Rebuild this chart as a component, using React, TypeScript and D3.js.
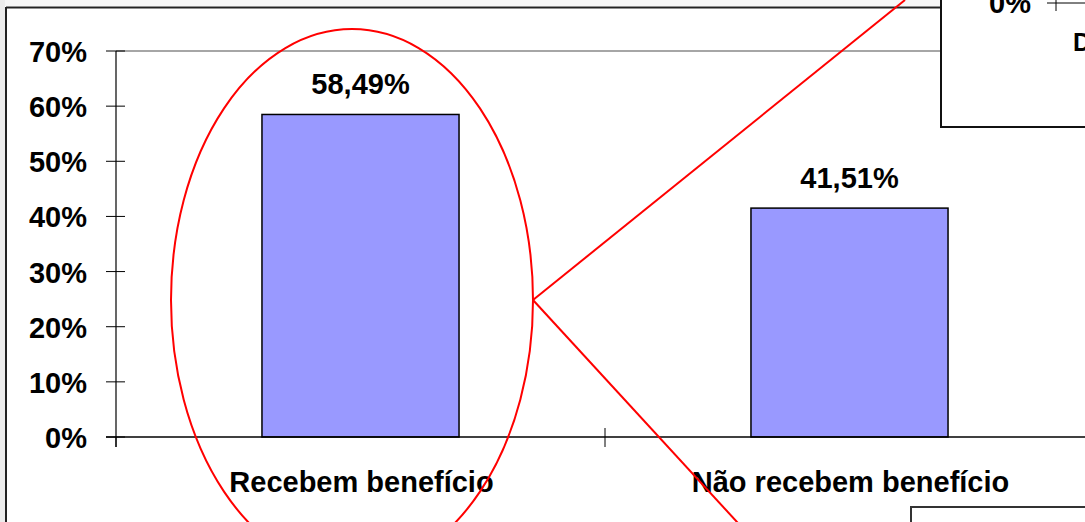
import React from "react";
import * as d3 from "d3";

const categories = ["Recebem benefício", "Não recebem benefício"];
const values = [58.49, 41.51];
const valueLabels = ["58,49%", "41,51%"];
const yTicks = [0, 10, 20, 30, 40, 50, 60, 70];

const W = 1085;
const H = 522;
const FONT = "'Liberation Sans', Arial, sans-serif";
const FS = 29;

export default function App() {
  const left = 116;
  const top = 51;
  const bottom = 437;
  const step = 489;
  const y = d3.scaleLinear().domain([0, 70]).range([bottom, top]);
  const x = d3
    .scaleBand<string>()
    .domain(categories)
    .range([left, left + step * 2])
    .paddingInner(0.597)
    .paddingOuter(0.2985);
  const catCenter = (c: string) => (x(c) as number) + x.bandwidth() / 2;
  const catBoundaries = [left, left + step];

  return (
    <svg
      width={W}
      height={H}
      style={{ position: "absolute", left: 0, top: 0, background: "#fff" }}
      fontFamily={FONT}
    >
      {/* surrounding frame */}
      <rect x={0} y={0} width={W} height={H} fill="#fff" />
      <rect x={0} y={0} width={5} height={H} fill="#ececec" />
      <rect x={5} y={0} width={W} height={6} fill="#f6f6f6" />
      <line x1={6} y1={7.5} x2={W} y2={7.5} stroke="#222" strokeWidth={2} />
      <line x1={6} y1={7} x2={6} y2={H} stroke="#222" strokeWidth={2} />

      {/* top gridline / plot border */}
      <line x1={left} y1={y(70)} x2={W} y2={y(70)} stroke="#888" strokeWidth={1.5} />

      {/* bars */}
      {categories.map((c, i) => (
        <rect
          key={c}
          x={x(c)}
          y={y(values[i])}
          width={x.bandwidth()}
          height={y(0) - y(values[i])}
          fill="#9999ff"
          stroke="#000"
          strokeWidth={1.5}
        />
      ))}

      {/* y axis */}
      <line x1={left} y1={y(70)} x2={left} y2={bottom + 10} stroke="#000" strokeWidth={1.2} />
      {yTicks.map((t) => (
        <g key={t}>
          <line x1={left - 10} y1={y(t)} x2={left + 9} y2={y(t)} stroke="#000" strokeWidth={1} />
          <text
            x={87}
            y={y(t) + 11}
            textAnchor="end"
            fontSize={FS}
            fontWeight="bold"
            fill="#000"
          >
            {t}%
          </text>
        </g>
      ))}

      {/* x axis */}
      <line x1={left - 10} y1={bottom} x2={W} y2={bottom} stroke="#000" strokeWidth={1.5} />
      {catBoundaries.map((b, i) => (
        <line
          key={i}
          x1={b}
          y1={i === 0 ? bottom : bottom - 9}
          x2={b}
          y2={bottom + 10}
          stroke="#000"
          strokeWidth={1}
        />
      ))}

      {/* value labels */}
      {categories.map((c, i) => (
        <text
          key={c}
          x={catCenter(c)}
          y={y(values[i]) - 20}
          textAnchor="middle"
          fontSize={FS}
          fontWeight="bold"
          fill="#000"
        >
          {valueLabels[i]}
        </text>
      ))}

      {/* category labels */}
      {categories.map((c) => (
        <text
          key={c}
          x={catCenter(c) + 1}
          y={492}
          textAnchor="middle"
          fontSize={FS}
          fontWeight="bold"
          fill="#000"
        >
          {c}
        </text>
      ))}

      {/* red annotation */}
      <ellipse cx={352} cy={300} rx={181} ry={271} fill="none" stroke="#ff0000" strokeWidth={2} />
      <line x1={533} y1={300} x2={905} y2={0} stroke="#ff0000" strokeWidth={2} />
      <line x1={533} y1={300} x2={760} y2={547} stroke="#ff0000" strokeWidth={2} />

      {/* inset box top-right */}
      <rect x={941} y={-5} width={160} height={132} fill="#fff" stroke="#111" strokeWidth={2} />
      <text x={1031} y={13} textAnchor="end" fontSize={FS} fontWeight="bold" fill="#000">
        0%
      </text>
      <line x1={1047} y1={3} x2={W} y2={3} stroke="#000" strokeWidth={1} />
      <line x1={1056} y1={0} x2={1056} y2={11} stroke="#000" strokeWidth={1} />
      <text x={1073} y={51} fontSize={25} fontWeight="bold" fill="#000">
        D
      </text>

      {/* inset box bottom-right */}
      <rect x={911} y={507} width={200} height={40} fill="#fff" stroke="#333" strokeWidth={2} />
    </svg>
  );
}
